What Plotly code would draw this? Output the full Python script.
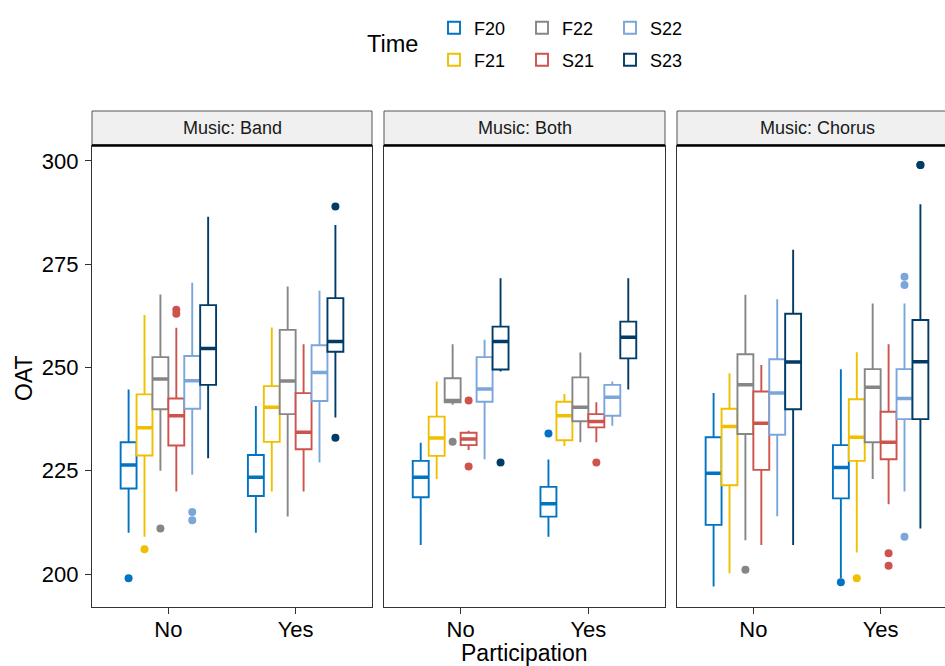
import plotly.graph_objects as go

# ---------------- data ----------------
facets = ["Band", "Both", "Chorus"]
participation = ["No", "Yes"]
times = ["F20", "F21", "F22", "S21", "S22", "S23"]
colors = ["#0073C2", "#EFC000", "#868686", "#CD534C", "#7AA6DC", "#003C67"]

# order: facet -> participation -> time (36 values each)
lower = [210, 209, 225, 220, 224, 228,
         210, 220, 213.9, 220, 227, 237.9,
         207, 223, 241, 230, 227.8, 249,
         209, 231, 231.9, 231.9, 235.9, 244.7,
         197, 200.2, 208.2, 207, 214, 207,
         199, 205.2, 223, 216.9, 220, 211]
q1 = [220.7, 228.7, 239.9, 231.1, 240, 245.8,
      218.9, 232, 238.7, 230.2, 241.9, 253.8,
      218.6, 228.6, 241.6, 231.2, 241.7, 249.5,
      213.9, 232.4, 237, 235.5, 238.3, 252.2,
      211.9, 221.5, 233.9, 225.2, 233.7, 239.9,
      218.3, 227.4, 231.9, 227.8, 237.5, 237.5]
median = [226.4, 235.4, 247.2, 238.3, 246.8, 254.6,
          223.4, 240.4, 246.7, 234.3, 248.8, 256.3,
          223.4, 232.9, 242, 232.7, 244.8, 256.3,
          217, 238.3, 240.4, 236.9, 242.8, 257.3,
          224.4, 235.7, 245.8, 236.5, 243.8, 251.3,
          225.8, 233.1, 245.2, 231.9, 242.5, 251.4]
q3 = [231.9, 243.5, 252.5, 242.5, 252.8, 265.1,
      228.8, 245.5, 259.1, 243.8, 255.4, 266.8,
      227.4, 238.1, 247.4, 234.2, 252.5, 259.9,
      221.1, 241.7, 247.6, 238.7, 245.8, 261.1,
      233.1, 240, 253.2, 244.2, 252, 263,
      231.2, 242.3, 249.6, 239.3, 249.6, 261.5]
upper = [244.7, 262.7, 267.7, 259.6, 270.5, 286.5,
         240.7, 259.7, 269.6, 255.6, 268.6, 284.5,
         231.8, 246.6, 255.6, 234.7, 256.7, 271.6,
         227.7, 243.6, 253.6, 241.6, 246.6, 271.6,
         243.8, 248.6, 267.6, 250.6, 266.5, 278.5,
         249.6, 253.7, 265.5, 255.6, 265.5, 289.5]

# outliers
out_facet = ["Band"] * 9 + ["Both"] * 6 + ["Chorus"] * 10
out_part = ["No"] * 7 + ["Yes"] * 2 + ["No"] * 4 + ["Yes"] * 2 + ["No"] + ["Yes"] * 9
out_time = ["F20", "F21", "F22", "S21", "S21", "S22", "S22", "S23", "S23",
            "F22", "S21", "S21", "S23", "F20", "S21",
            "F22", "F20", "F21", "S21", "S21", "S22", "S22", "S22", "S23", "S23"]
out_value = [199, 206, 211, 264, 263, 215, 213, 289, 233,
             232, 242, 226, 227, 234, 227,
             201, 198, 199, 205, 202, 272, 270, 209, 299, 299]

# ---------------- layout helpers ----------------
W, H = 945, 666
FONT = "Liberation Sans, Arial, sans-serif"
dodge = 0.75
bw = dodge / len(times)

def px_x(v):
    return v / W

def px_y(v):
    return 1 - v / H

panel_px = [(92, 372), (384, 665), (677, 957)]
x_domains = [[px_x(a), min(1.0, px_x(b))] for a, b in panel_px]
y_domain = [px_y(606.5), px_y(145.5)]
unit_px = (372 - 92) / 2.2
x_ranges = [[0.4, 2.6], [0.4, 2.6], [0.4, 0.4 + (W - 677) / unit_px]]

def pos(part, t):
    return participation.index(part) + 1 + (times.index(t) - (len(times) - 1) / 2) * bw

fig = go.Figure()

for fi, fac in enumerate(facets):
    xa = "x" if fi == 0 else f"x{fi+1}"
    ya = "y" if fi == 0 else f"y{fi+1}"
    for ti, t in enumerate(times):
        idx = [fi * 12 + pi * 6 + ti for pi in range(2)]
        xs = [pos(p, t) for p in participation]
        leg = "legend" if ti == 0 else f"legend{ti+1}"
        fig.add_trace(go.Box(
            x=xs,
            q1=[q1[i] for i in idx], median=[median[i] for i in idx],
            q3=[q3[i] for i in idx], lowerfence=[lower[i] for i in idx],
            upperfence=[upper[i] for i in idx],
            width=bw, whiskerwidth=0, boxpoints=False,
            line=dict(color=colors[ti], width=1.9), fillcolor="white",
            name=t, legendgroup=t, showlegend=(fi == 0), legend=leg,
            xaxis=xa, yaxis=ya, hoverinfo="skip"))
        # thicker median bar
        fig.add_trace(go.Box(
            x=xs,
            q1=[median[i] for i in idx], median=[median[i] for i in idx],
            q3=[median[i] for i in idx], lowerfence=[median[i] for i in idx],
            upperfence=[median[i] for i in idx],
            width=bw, whiskerwidth=0, boxpoints=False,
            line=dict(color=colors[ti], width=3.5), fillcolor=colors[ti],
            name=t, legendgroup=t, showlegend=False,
            xaxis=xa, yaxis=ya, hoverinfo="skip"))
    # outliers
    for ti, t in enumerate(times):
        ox = [pos(p, tt) for f, p, tt in zip(out_facet, out_part, out_time) if f == fac and tt == t]
        oy = [v for f, p, tt, v in zip(out_facet, out_part, out_time, out_value) if f == fac and tt == t]
        if ox:
            fig.add_trace(go.Scatter(
                x=ox, y=oy, mode="markers",
                marker=dict(color=colors[ti], size=8, line=dict(width=0)),
                showlegend=False, legendgroup=t, xaxis=xa, yaxis=ya, hoverinfo="skip"))

layout = dict(
    width=W, height=H,
    margin=dict(l=0, r=0, t=0, b=0),
    paper_bgcolor="white", plot_bgcolor="white",
    font=dict(family=FONT, color="black"),
    boxmode="overlay",
)

axis_common = dict(showgrid=False, zeroline=False, showline=True,
                   linecolor="#333333", linewidth=1.3)
for fi in range(3):
    xk = "xaxis" if fi == 0 else f"xaxis{fi+1}"
    yk = "yaxis" if fi == 0 else f"yaxis{fi+1}"
    layout[xk] = dict(axis_common, domain=x_domains[fi], range=x_ranges[fi],
                      anchor="y" if fi == 0 else f"y{fi+1}",
                      mirror=True, tickmode="array", tickvals=[1, 2],
                      ticktext=participation, ticks="outside", ticklen=6,
                      tickwidth=1.2, tickcolor="#333333",
                      tickfont=dict(size=22, color="black", family=FONT),
                      ticklabelstandoff=-3)
    ydict = dict(axis_common, domain=y_domain, range=[192.13, 303.75],
                 anchor="x" if fi == 0 else f"x{fi+1}",
                 mirror=(fi < 2))
    if fi == 0:
        ydict.update(tickmode="array", tickvals=[200, 225, 250, 275, 300],
                     ticks="outside", ticklen=6, tickwidth=1.2, tickcolor="#333333",
                     tickfont=dict(size=22, color="black", family=FONT),
                     ticklabelstandoff=2)
    else:
        ydict.update(matches="y", showticklabels=False, ticks="")
    layout[yk] = ydict

shapes = []
annotations = []
strip_px = (111, 145)
for fi, fac in enumerate(facets):
    a, b = panel_px[fi]
    x0 = px_x(a)
    x1 = px_x(b) if b <= W else 1.02
    shapes.append(dict(type="rect", xref="paper", yref="paper",
                       x0=x0, x1=x1, y0=px_y(strip_px[1]), y1=px_y(strip_px[0]),
                       fillcolor="#F0F0F0", line=dict(color="#555555", width=1)))
    shapes.append(dict(type="line", xref="paper", yref="paper",
                       x0=x0, x1=x1, y0=px_y(145.5), y1=px_y(145.5),
                       line=dict(color="black", width=2.6)))
    annotations.append(dict(text=f"Music: {fac}", xref="paper", yref="paper",
                            x=px_x((a + b) / 2), y=px_y(128), showarrow=False,
                            xanchor="center", yanchor="middle",
                            font=dict(size=18, color="#1A1A1A", family=FONT)))

annotations.append(dict(text="OAT", xref="paper", yref="paper", x=px_x(24), y=px_y(378),
                        textangle=-90, showarrow=False, xanchor="center", yanchor="middle",
                        font=dict(size=23, color="black", family=FONT)))
annotations.append(dict(text="Participation", xref="paper", yref="paper",
                        x=px_x(524.5), y=px_y(653), showarrow=False,
                        xanchor="center", yanchor="middle",
                        font=dict(size=23, color="black", family=FONT)))
annotations.append(dict(text="Time", xref="paper", yref="paper",
                        x=px_x(392), y=px_y(44), showarrow=False,
                        xanchor="center", yanchor="middle",
                        font=dict(size=23.5, color="black", family=FONT)))

# legends, column-major like ggplot: col 1 F20/F21, col 2 F22/S21, col 3 S22/S23
text_x = [474, 562, 650]
row_y = [28, 60]
for ti, t in enumerate(times):
    col, row = ti // 2, ti % 2
    key = "legend" if ti == 0 else f"legend{ti+1}"
    layout[key] = dict(x=px_x(text_x[col] - 40), y=px_y(row_y[row]),
                       xanchor="left", yanchor="middle", orientation="h",
                       bgcolor="rgba(0,0,0,0)", borderwidth=0,
                       font=dict(size=18, color="black", family=FONT))

layout["shapes"] = shapes
layout["annotations"] = annotations
fig.update_layout(**layout)

fig.write_html("out.html")
